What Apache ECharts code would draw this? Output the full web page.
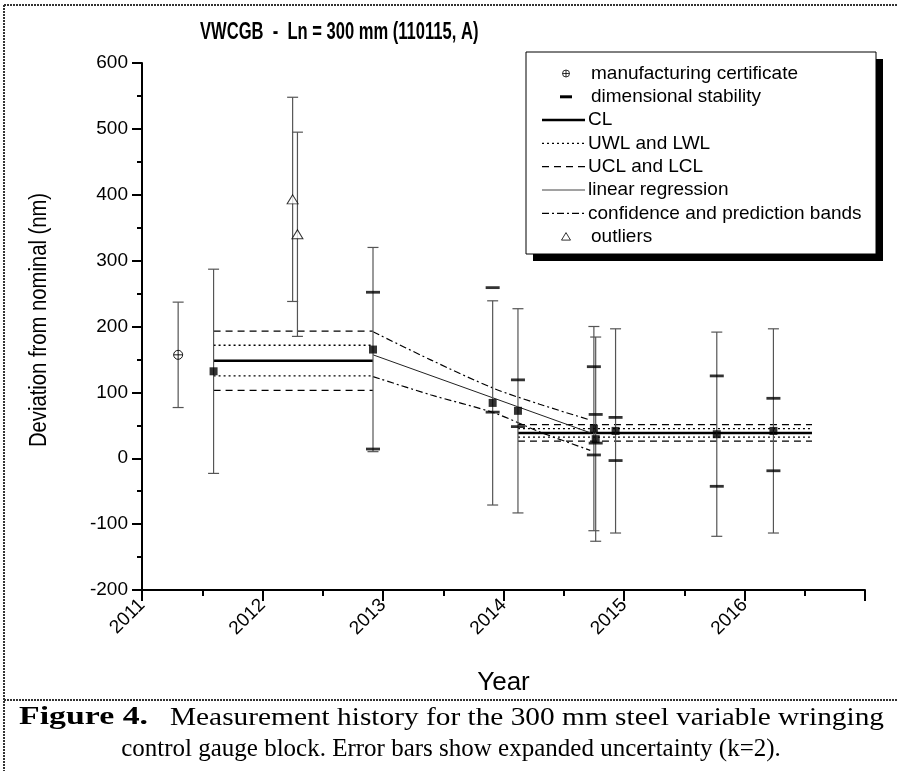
<!DOCTYPE html>
<html>
<head>
<meta charset="utf-8">
<script src="https://cdn.jsdelivr.net/npm/echarts@6/dist/echarts.min.js"></script>
<style>
  html, body { margin: 0; padding: 0; background: #fff; }
  #chart { width: 897px; height: 771px; }
</style>
</head>
<body>
<div id="chart"></div>
<script>
// values (year, deviation in nm)
const certYears = [2011.30]
const certValues = [157]
const certU = [80]

const measYears = [2011.594, 2012.917, 2013.91, 2014.12, 2014.75, 2014.765, 2014.93, 2015.77, 2016.24]
const measValues = [132, 165, 84, 72, 45, 29, 41.5, 36.5, 41.5]
const measU = [155, 155, 155, 155, 155, 155, 155, 155, 155]

const outlierYears = [2012.25, 2012.29]
const outlierValues = [393, 340]
const outlierU = [155, 155]

const stabYears = [2012.917, 2013.91, 2014.12, 2014.75, 2014.765, 2014.93, 2015.77, 2016.24]
const stabUpper = [252, 259, 119, 139, 66.5, 62, 125, 91]
const stabLower = [14, 70, 48, 5, 23, -3.5, -42.6, -19]

// control chart limits, two periods
const limitStart = [2011.594, 2014.12]
const limitEnd = [2012.917, 2016.56]
const clValues = [148, 38.5]
const uwlValues = [171.5, 45]
const lwlValues = [125, 32]
const uclValues = [193, 51]
const lclValues = [103, 26]

// regression and bands
const regYears = [2012.917, 2014.73]
const regValues = [157, 38]
const bandYears = [2012.917, 2013.4, 2013.92, 2014.3, 2014.72]
const bandUpper = [192, 149, 106, 82, 58]
const bandLower = [124, 96, 69, 40, 12]

const xTicks = [2011, 2012, 2013, 2014, 2015, 2016, 2017]
const yTicks = [-200, -100, 0, 100, 200, 300, 400, 500, 600]

const legendItems = [
  { name: 'manufacturing certificate', kind: 'cert' },
  { name: 'dimensional stability', kind: 'dash' },
  { name: 'CL', kind: 'line', width: 2.5, dash: null },
  { name: 'UWL and LWL', kind: 'line', width: 1.3, dash: [2, 3] },
  { name: 'UCL and LCL', kind: 'line', width: 1.3, dash: [7, 5] },
  { name: 'linear regression', kind: 'line', width: 1, dash: null, color: '#444' },
  { name: 'confidence and prediction bands', kind: 'line', width: 1.2, dash: [7, 3, 2, 3] },
  { name: 'outliers', kind: 'tri' }
]

const captionHead = 'Figure 4.'
const captionLine1 = 'Measurement history for the 300 mm steel variable wringing'
const captionLine2 = 'control gauge block. Error bars show expanded uncertainty (k=2).'

const FONT = 'Liberation Sans, Arial, sans-serif'
const SERIF = 'Liberation Serif, Times New Roman, serif'

const chart = echarts.init(document.getElementById('chart'))

function errorData(xs, vs, us) {
  return xs.map((x, i) => [x, vs[i] - us[i], vs[i] + us[i]])
}

function errorBarItem(params, api) {
  const x = api.value(0)
  const lo = api.coord([x, api.value(1)])
  const hi = api.coord([x, api.value(2)])
  const hw = 5.5
  const st = { stroke: '#555', lineWidth: 1.2 }
  return {
    type: 'group',
    children: [
      { type: 'line', shape: { x1: hi[0], y1: hi[1], x2: lo[0], y2: lo[1] }, style: st },
      { type: 'line', shape: { x1: hi[0] - hw, y1: hi[1], x2: hi[0] + hw, y2: hi[1] }, style: st },
      { type: 'line', shape: { x1: lo[0] - hw, y1: lo[1], x2: lo[0] + hw, y2: lo[1] }, style: st }
    ]
  }
}

function certItem(params, api) {
  const p = api.coord([api.value(0), api.value(1)])
  const r = 4.5
  const st = { stroke: '#000', lineWidth: 0.9, fill: '#fff' }
  return {
    type: 'group',
    children: [
      { type: 'circle', shape: { cx: p[0], cy: p[1], r: r }, style: st },
      { type: 'line', shape: { x1: p[0] - r, y1: p[1], x2: p[0] + r, y2: p[1] }, style: st },
      { type: 'line', shape: { x1: p[0], y1: p[1] - r, x2: p[0], y2: p[1] + r }, style: st }
    ]
  }
}

const series = []

// control limits
limitStart.forEach((x0, i) => {
  const x1 = limitEnd[i]
  const seg = (vals, style) => ({
    type: 'line', symbol: 'none', silent: true, z: 3,
    data: [[x0, vals[i]], [x1, vals[i]]],
    lineStyle: style
  })
  series.push(seg(clValues, { color: '#000', width: 2.5 }))
  series.push(seg(uwlValues, { color: '#000', width: 1.3, type: [2, 3] }))
  series.push(seg(lwlValues, { color: '#000', width: 1.3, type: [2, 3] }))
  series.push(seg(uclValues, { color: '#000', width: 1.3, type: [7, 5] }))
  series.push(seg(lclValues, { color: '#000', width: 1.3, type: [7, 5] }))
})

series.push({
  type: 'line', symbol: 'none', silent: true, z: 3,
  data: regYears.map((x, i) => [x, regValues[i]]),
  lineStyle: { color: '#222', width: 1 }
})
series.push({
  type: 'line', symbol: 'none', silent: true, z: 3, smooth: 0.3,
  data: bandYears.map((x, i) => [x, bandUpper[i]]),
  lineStyle: { color: '#000', width: 1.2, type: [7, 3, 2, 3] }
})
series.push({
  type: 'line', symbol: 'none', silent: true, z: 3, smooth: 0.3,
  data: bandYears.map((x, i) => [x, bandLower[i]]),
  lineStyle: { color: '#000', width: 1.2, type: [7, 3, 2, 3] }
})

// error bars
series.push({
  type: 'custom', renderItem: errorBarItem, silent: true, z: 4,
  encode: { x: 0, y: [1, 2] },
  data: errorData(measYears, measValues, measU)
    .concat(errorData(outlierYears, outlierValues, outlierU))
    .concat(errorData(certYears, certValues, certU))
})

// dimensional stability dashes
series.push({
  type: 'scatter', symbol: 'rect', symbolSize: [14, 2.8], silent: true, z: 5,
  itemStyle: { color: '#000' },
  data: stabYears.map((x, i) => [x, stabUpper[i]]).concat(stabYears.map((x, i) => [x, stabLower[i]]))
})

// measurements
series.push({
  type: 'scatter', symbol: 'rect', symbolSize: 8, silent: true, z: 6,
  itemStyle: { color: '#000' },
  data: measYears.map((x, i) => [x, measValues[i]])
})

// outliers
series.push({
  type: 'scatter', symbol: 'triangle', symbolSize: [11, 9], silent: true, z: 6,
  itemStyle: { color: '#fff', borderColor: '#000', borderWidth: 1 },
  data: outlierYears.map((x, i) => [x, outlierValues[i]])
})

// manufacturing certificate
series.push({
  type: 'custom', renderItem: certItem, silent: true, z: 6,
  data: certYears.map((x, i) => [x, certValues[i]])
})

// legend box drawn by hand
const lgX = 526, lgY = 52, lgW = 350, lgH = 202
const legendEls = [
  { type: 'rect', shape: { x: lgX + 7, y: lgY + 7, width: lgW, height: lgH }, style: { fill: '#000' }, z: 10 },
  { type: 'rect', shape: { x: lgX, y: lgY, width: lgW, height: lgH }, style: { fill: '#fff', stroke: '#000', lineWidth: 1 }, z: 11 }
]
legendItems.forEach((it, i) => {
  const cy = 73.5 + i * 23.3
  const textX = it.kind === 'line' ? 588 : 591
  legendEls.push({
    type: 'text', z: 12, x: textX, y: cy,
    style: { text: it.name, font: '19px ' + FONT, fill: '#000', verticalAlign: 'middle', align: 'left' }
  })
  if (it.kind === 'line') {
    legendEls.push({
      type: 'line', z: 12,
      shape: { x1: 542, y1: cy, x2: 585, y2: cy },
      style: { stroke: it.color || '#000', lineWidth: it.width, lineDash: it.dash }
    })
  } else if (it.kind === 'dash') {
    legendEls.push({ type: 'rect', z: 12, shape: { x: 560, y: cy - 1.5, width: 12, height: 3 }, style: { fill: '#000' } })
  } else if (it.kind === 'cert') {
    legendEls.push({ type: 'circle', z: 12, shape: { cx: 566, cy: cy, r: 3.5 }, style: { fill: 'none', stroke: '#000', lineWidth: 0.8 } })
    legendEls.push({ type: 'line', z: 12, shape: { x1: 562.5, y1: cy, x2: 569.5, y2: cy }, style: { stroke: '#000', lineWidth: 0.8 } })
    legendEls.push({ type: 'line', z: 12, shape: { x1: 566, y1: cy - 3.5, x2: 566, y2: cy + 3.5 }, style: { stroke: '#000', lineWidth: 0.8 } })
  } else if (it.kind === 'tri') {
    legendEls.push({ type: 'polygon', z: 12, shape: { points: [[566, cy - 4], [570.5, cy + 3.5], [561.5, cy + 3.5]] }, style: { fill: 'none', stroke: '#000', lineWidth: 0.8 } })
  }
})

// caption: first line is stretched in the figure, second line centred
const measureCtx = document.createElement('canvas').getContext('2d')
function textWidth(t, font) { measureCtx.font = font; return measureCtx.measureText(t).width }
const headFont = 'bold 25px ' + SERIF
const bodyFont = '25px ' + SERIF
const captionEls = [
  {
    type: 'text', x: 19, y: 718, scaleX: 129 / textWidth(captionHead, headFont),
    style: { text: captionHead, font: headFont, fill: '#000', verticalAlign: 'middle', align: 'left' }
  },
  {
    type: 'text', x: 170, y: 718, scaleX: 714 / textWidth(captionLine1, bodyFont),
    style: { text: captionLine1, font: bodyFont, fill: '#000', verticalAlign: 'middle', align: 'left' }
  },
  {
    type: 'text', x: 451, y: 749,
    style: { text: captionLine2, font: bodyFont, fill: '#000', align: 'center', verticalAlign: 'middle' }
  }
]

const frameStyle = { stroke: '#333', lineWidth: 2, lineDash: [2, 1] }

const option = {
  animation: false,
  backgroundColor: '#fff',
  textStyle: { fontFamily: FONT },
  grid: { left: 142, right: 32, top: 63, bottom: 181, containLabel: false },
  xAxis: {
    type: 'value',
    min: xTicks[0], max: xTicks[xTicks.length - 1], interval: 1,
    axisLine: { show: true, onZero: false, lineStyle: { color: '#000', width: 2 } },
    axisTick: { show: true, inside: false, length: 11, lineStyle: { color: '#000', width: 2 } },
    minorTick: { show: true, splitNumber: 2, length: 6, lineStyle: { color: '#000', width: 2 } },
    splitLine: { show: false },
    axisLabel: {
      rotate: 45, margin: 12, fontSize: 19, color: '#000', fontFamily: FONT,
      showMaxLabel: false,
      formatter: v => String(v)
    },
    name: 'Year', nameLocation: 'middle', nameGap: 80, nameMoveOverlap: false,
    nameTextStyle: { fontSize: 26, color: '#000', fontFamily: FONT }
  },
  yAxis: {
    type: 'value',
    min: yTicks[0], max: yTicks[yTicks.length - 1], interval: 100,
    axisLine: { show: true, onZero: false, lineStyle: { color: '#000', width: 2 } },
    axisTick: { show: true, inside: false, length: 10, lineStyle: { color: '#000', width: 2 } },
    minorTick: { show: true, splitNumber: 2, length: 5, lineStyle: { color: '#000', width: 2 } },
    splitLine: { show: false },
    axisLabel: { margin: 14, fontSize: 19, color: '#000', fontFamily: FONT }
  },
  graphic: [
    {
      type: 'text', x: 200, y: 33, scaleX: 0.72,
      style: { text: 'VWCGB  -  Ln = 300 mm (110115, A)', font: 'bold 23px ' + FONT, fill: '#000', verticalAlign: 'middle' }
    },
    {
      type: 'text', x: 40, y: 320, rotation: Math.PI / 2, scaleX: 0.88,
      style: { text: 'Deviation from nominal (nm)', font: '23px ' + FONT, fill: '#000', align: 'center', verticalAlign: 'middle' }
    },
    { type: 'line', shape: { x1: 4, y1: 5, x2: 897, y2: 5 }, style: frameStyle },
    { type: 'line', shape: { x1: 4, y1: 5, x2: 4, y2: 771 }, style: frameStyle },
    { type: 'line', shape: { x1: 4, y1: 700, x2: 897, y2: 700 }, style: frameStyle }
  ].concat(captionEls).concat(legendEls),
  series: series
}

chart.setOption(option)
</script>
</body>
</html>
